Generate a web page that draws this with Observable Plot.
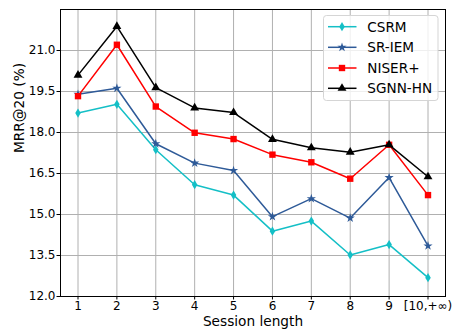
<!DOCTYPE html>
<html>
<head>
<meta charset="utf-8">
<script src="https://cdn.jsdelivr.net/npm/d3@7"></script>
<script src="https://cdn.jsdelivr.net/npm/@observablehq/plot@0.6"></script>
<style>
  html, body { margin: 0; padding: 0; background: white; }
  #chart { width: 458px; height: 329px; }
</style>
</head>
<body>
<div id="chart"></div>
<script>
// ---- data ----
const sessionLengths = [1, 2, 3, 4, 5, 6, 7, 8, 9, 10];
const xTickLabels = ["1", "2", "3", "4", "5", "6", "7", "8", "9", "[10,+\u221E)"];
const yTicks = [12.0, 13.5, 15.0, 16.5, 18.0, 19.5, 21.0];
const seriesNames = ["CSRM", "SR-IEM", "NISER+", "SGNN-HN"];
const csrm = [18.71, 19.03, 17.37, 16.09, 15.71, 14.39, 14.76, 13.52, 13.90, 12.69];
const srIem = [19.40, 19.62, 17.59, 16.88, 16.61, 14.92, 15.58, 14.87, 16.35, 13.85];
const niserPlus = [19.33, 21.21, 18.95, 17.99, 17.76, 17.19, 16.91, 16.31, 17.55, 15.71];
const sgnnHn = [20.10, 21.88, 19.64, 18.90, 18.73, 17.75, 17.44, 17.28, 17.55, 16.38];
const seriesValues = [csrm, srIem, niserPlus, sgnnHn];

// ---- styles ----
const thinDiamond = {
  draw(context, size) {
    const r = Math.sqrt(size / Math.PI);
    context.moveTo(0, -r);
    context.lineTo(r * 0.6, 0);
    context.lineTo(0, r);
    context.lineTo(-r * 0.6, 0);
    context.closePath();
  }
};
const seriesColors = ["#14bfc6", "#2e5a98", "#ff0000", "#000000"];
const seriesSymbols = [thinDiamond, d3.symbolStar, d3.symbolSquare, d3.symbolTriangle];
const seriesR = [4.6, 2.9, 3.6, 3.3];

const rows = seriesNames.flatMap((name, s) =>
  sessionLengths.map((x, i) => ({series: name, x, y: seriesValues[s][i]})));

const marks = [
  Plot.gridX(sessionLengths, {stroke: "#b0b0b0", strokeOpacity: 1, strokeWidth: 1}),
  Plot.gridY(yTicks, {stroke: "#b0b0b0", strokeOpacity: 1, strokeWidth: 1}),
  Plot.axisX(sessionLengths, {
    tickFormat: d => xTickLabels[sessionLengths.indexOf(d)],
    tickSize: 3.5, tickPadding: 1.5, label: null, fontSize: 12
  }),
  Plot.axisY(yTicks, {
    tickFormat: d => d.toFixed(1),
    tickSize: 3.5, tickPadding: 1.5, label: null, fontSize: 12
  }),
];
seriesNames.forEach((name, s) => {
  const data = rows.filter(d => d.series === name);
  marks.push(Plot.line(data, {x: "x", y: "y", stroke: seriesColors[s], strokeWidth: 1.5}));
  marks.push(Plot.dot(data, {x: "x", y: "y", fill: seriesColors[s], stroke: "none",
    symbol: () => seriesSymbols[s], r: seriesR[s]}));
});
marks.push(Plot.frame({stroke: "black", strokeWidth: 1}));
marks.push(Plot.text(["Session length"], {frameAnchor: "bottom", dy: 29, lineAnchor: "bottom",
  fontSize: 13.7, fill: "black"}));
marks.push(Plot.text(["MRR@20 (%)"], {frameAnchor: "left", dx: -41, rotate: -90,
  fontSize: 13.7, fill: "black"}));

const chart = Plot.plot({
  width: 458, height: 329,
  marginLeft: 60, marginRight: 13, marginTop: 9, marginBottom: 33,
  x: {domain: [0.55, 10.45]},
  y: {domain: [12, 22.5]},
  style: {fontFamily: "'DejaVu Sans', sans-serif", fontSize: "12px", color: "black", background: "white", overflow: "visible"},
  marks
});

// ---- legend (drawn into the same svg) ----
const svg = d3.select(chart);
const lg = svg.append("g").attr("text-anchor", "start");
lg.append("rect").attr("x", 323.5).attr("y", 15.5).attr("width", 114.5).attr("height", 85)
  .attr("rx", 3).attr("fill", "white").attr("fill-opacity", 0.8)
  .attr("stroke", "#d5d5d5").attr("stroke-width", 1);
const legendY = [26.7, 47.3, 68, 88.3];
seriesNames.forEach((name, s) => {
  const y = legendY[s];
  lg.append("line").attr("x1", 328).attr("x2", 356.5).attr("y1", y).attr("y2", y)
    .attr("stroke", seriesColors[s]).attr("stroke-width", 1.5);
  lg.append("path").attr("transform", `translate(342,${y})`)
    .attr("d", d3.symbol(seriesSymbols[s], Math.PI * seriesR[s] * seriesR[s])())
    .attr("fill", seriesColors[s]);
  lg.append("text").attr("x", 367.3).attr("y", y).attr("dy", "0.36em")
    .attr("text-anchor", "start")
    .attr("font-size", 13.6).attr("fill", "black").text(name);
});

document.getElementById("chart").appendChild(chart);
</script>
</body>
</html>
